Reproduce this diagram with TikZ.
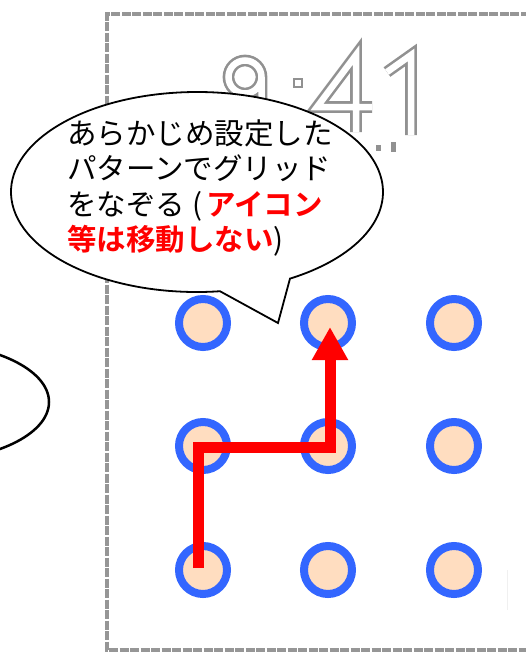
\documentclass[tikz,border=0pt]{standalone}
\usepackage{fontspec}
\newfontfamily\jp{Noto Sans CJK JP}[BoldFont={Noto Sans CJK JP Bold}]
\usetikzlibrary{arrows.meta}
\definecolor{ringblue}{RGB}{51,102,255}
\definecolor{peach}{RGB}{255,221,192}
\definecolor{framegray}{RGB}{150,150,150}
\definecolor{digitgray}{RGB}{145,145,145}
\begin{document}
\begin{tikzpicture}[x=1pt,y=-1pt,
  dot/.style={circle, draw=ringblue, fill=peach, line width=8pt, minimum size=48pt, inner sep=0pt},
  txt/.style={anchor=base west, inner sep=0pt, font=\jp\fontsize{29.5pt}{35pt}\selectfont},
  digit/.style={draw=digitgray, line width=2.6pt, double=white, double distance=6.5pt, line join=miter},
  redarrow/.style={draw=red, line width=11pt, line join=miter, -{Triangle[width=34pt,length=33pt]}},
  bubble/.style={draw=black, fill=white, line width=1.8pt, line join=miter}
]
\useasboundingbox (0,0) rectangle (526,654);
\fill[white] (0,0) rectangle (526,654);
\begin{scope}
\clip (0,0) rectangle (526,654);
% phone frame
\draw[framegray, line width=4.5pt, dash pattern=on 9pt off 1.5pt] (540,14) -- (107,14) -- (107,650) -- (540,650);
\draw[gray!12, line width=1pt] (507,570) -- (507,610);
% clock digits 9:41
\draw[digit] (245,77) circle[radius=16.5] (261.5,77) -- (261.5,118);
\draw[digitgray, line width=2.2pt, fill=white] (294,79) rectangle (302,87);
\draw[digit] (356,132) -- (356,55) -- (317,107) -- (372,107);
\draw[digit] (387,72) -- (411,55) -- (411,135);
\fill[digitgray] (376,145) rectangle (381,151);
\fill[digitgray] (391,142) rectangle (396,152);
% left ellipse
\draw[line width=2.5pt] (-75,402) ellipse[x radius=124, y radius=59];
% speech bubble
\draw[bubble] ([shift={(197,192)}]82.9:186 and 100) arc[start angle=82.9, end angle=420, x radius=186, y radius=100] -- (278,323) -- cycle;
% text
\node[txt] (t1) at (67,144.5) {あらかじめ設定した};
\node[txt] (t2) at (67,179.5) {パターンでグリッド};
\node[txt] (t3) at (67,215) {をなぞる\kern7pt(\kern4pt\textcolor{red}{\bfseries アイコン}};
\node[txt] (t4) at (67,250) {\textcolor{red}{\bfseries 等は移動しない})};
% grid
\node[dot] (g11) at (203,323) {};
\node[dot] (g12) at (328,323) {};
\node[dot] (g13) at (454,323) {};
\node[dot] (g21) at (203,446) {};
\node[dot] (g22) at (328,446) {};
\node[dot] (g23) at (454,446) {};
\node[dot] (g31) at (203,570) {};
\node[dot] (g32) at (328,570) {};
\node[dot] (g33) at (454,570) {};
% pattern stroke
\draw[redarrow] ([xshift=-5pt,yshift=2pt]g31.center) |- ([xshift=2pt,yshift=-1pt]g22.center) -- ([xshift=2pt,yshift=-4pt]g12.center);
\end{scope}
\end{tikzpicture}
\end{document}
